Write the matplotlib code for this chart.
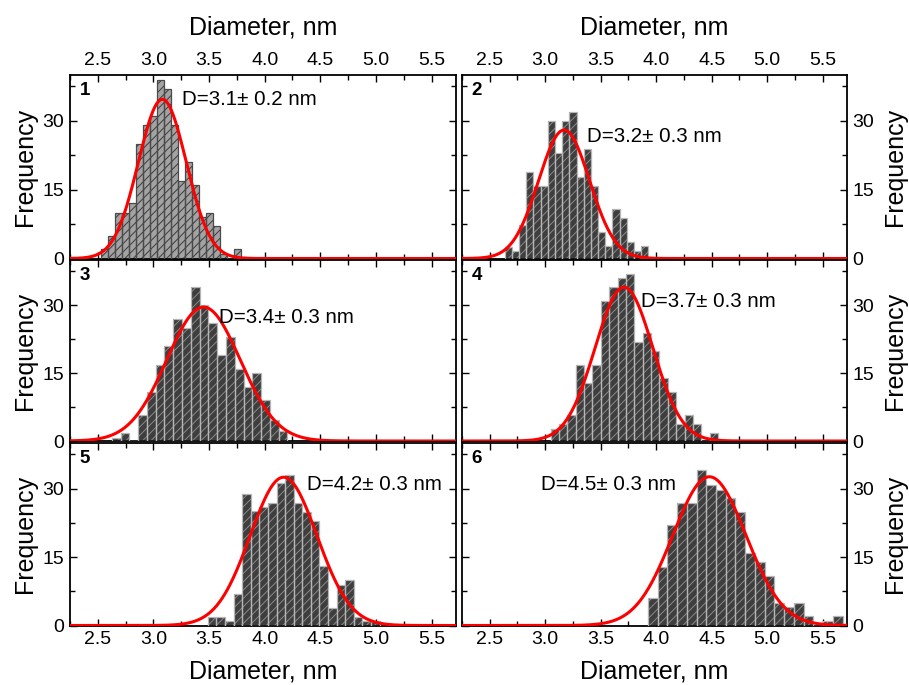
import numpy as np
import matplotlib
matplotlib.use("Agg")
import matplotlib.pyplot as plt
from matplotlib.ticker import MultipleLocator

plt.rcParams['font.family'] = ['Liberation Sans', 'DejaVu Sans']
plt.rcParams['hatch.linewidth'] = 0.7

# ---- data ----
p1_counts = [2, 5, 10, 10, 12, 25, 29, 31, 39, 37, 29, 17, 21, 16, 9, 10, 7, 1, 0, 2]
p1_range = (2.53, 3.79)
p1_fit = (3.08, 0.215, 34.7)          # centre, sigma, amplitude
p1_label = "D=3.1\u00b1 0.2 nm"

p2_counts = [2.6, 1.6, 7.4, 18.8, 15.8, 15.8, 30, 23, 30, 32, 17.8, 23.9, 15.8, 5.7, 2.8, 10.8, 8.8, 3.7, 1.6, 2.7]
p2_range = (2.635, 3.93)
p2_fit = (3.17, 0.23, 28.0)
p2_label = "D=3.2\u00b1 0.3 nm"

p3_counts = [0.6, 1.7, 0, 5.7, 10.8, 16.9, 21, 27, 25, 34, 30, 26, 19, 23, 16, 12, 15, 9, 4.6, 2.2]
p3_range = (2.625, 4.205)
p3_fit = (3.45, 0.33, 29.6)
p3_label = "D=3.4\u00b1 0.3 nm"

p4_counts = [2.6, 3.7, 5.7, 16.8, 12.9, 16.8, 31, 34, 36, 37, 21.9, 23.9, 19.9, 14, 10.8, 3.7, 5.7, 3.7, 0, 1.7]
p4_range = (3.049, 4.557)
p4_fit = (3.71, 0.26, 34.0)
p4_label = "D=3.7\u00b1 0.3 nm"

p5_counts = [1.8, 1.8, 0.9, 6.9, 28.9, 25, 25.9, 26.9, 31.2, 32.9, 26.9, 24.9, 23, 13.1, 3.9, 8.8, 9.9, 1.8, 0.9, 0.9]
p5_range = (3.488, 5.034)
p5_fit = (4.17, 0.30, 32.5)
p5_label = "D=4.2\u00b1 0.3 nm"

p6_counts = [6, 12.9, 22, 26.9, 26.9, 34, 30.9, 29.8, 27.9, 24.9, 15.9, 14, 10.9, 4.9, 4, 4.9, 2, 0, 0.9, 2]
p6_range = (3.925, 5.68)
p6_fit = (4.48, 0.33, 32.6)
p6_label = "D=4.5\u00b1 0.3 nm"

panels = [
    (p1_counts, p1_range, p1_fit, p1_label, "1"),
    (p2_counts, p2_range, p2_fit, p2_label, "2"),
    (p3_counts, p3_range, p3_fit, p3_label, "3"),
    (p4_counts, p4_range, p4_fit, p4_label, "4"),
    (p5_counts, p5_range, p5_fit, p5_label, "5"),
    (p6_counts, p6_range, p6_fit, p6_label, "6"),
]

# label positions (data coords) for annotations
label_pos = [(3.26, 34.6), (3.38, 26.5), (3.59, 27.4), (3.86, 30.9), (4.38, 31.0), (2.96, 31.0)]

W, H = 909, 685
fig = plt.figure(figsize=(W / 100, H / 100), dpi=100)

cols = [(70, 456), (462, 847)]
rows = [(75, 258.5), (260, 441), (443, 625.5)]

XLIM = (2.25, 5.72)
YLIM = (0, 40)

for i, (counts, rng, fit, label, num) in enumerate(panels):
    r, c = divmod(i, 2)
    x0, x1 = cols[c]
    y0, y1 = rows[r]
    ax = fig.add_axes([x0 / W, 1 - y1 / H, (x1 - x0) / W, (y1 - y0) / H])

    counts = np.asarray(counts, dtype=float)
    edges = np.linspace(rng[0], rng[1], len(counts) + 1)
    widths = np.diff(edges)
    if i == 0:
        face, hatchc, edgec = '#a3a3a3', '#3a3a3a', '#4a4a4a'
    else:
        face, hatchc, edgec = '#3e3e3e', '#8a8a8a', '#b5b5b5'
    ax.bar(edges[:-1], counts, width=widths, align='edge', color=face,
           edgecolor=hatchc, hatch='////', linewidth=0, zorder=2)
    ax.bar(edges[:-1], counts, width=widths, align='edge', fill=False,
           edgecolor=edgec, linewidth=0.9, zorder=3)

    xs = np.linspace(XLIM[0], XLIM[1], 600)
    mu, sig, amp = fit
    ax.plot(xs, amp * np.exp(-0.5 * ((xs - mu) / sig) ** 2), color='#ff0000',
            lw=2.2, zorder=4, clip_on=True)

    ax.set_xlim(*XLIM)
    ax.set_ylim(*YLIM)
    ax.xaxis.set_major_locator(MultipleLocator(0.5))
    ax.xaxis.set_minor_locator(MultipleLocator(0.25))
    ax.yaxis.set_major_locator(MultipleLocator(15))
    ax.yaxis.set_minor_locator(MultipleLocator(7.5))
    ax.set_xticks([2.5, 3.0, 3.5, 4.0, 4.5, 5.0, 5.5])
    ax.tick_params(which='both', direction='in', top=True, bottom=True,
                   left=True, right=True, width=1.0, labelsize=14, pad=4)
    ax.tick_params(which='major', length=5)
    ax.tick_params(which='minor', length=3.5)
    for s in ax.spines.values():
        s.set_linewidth(1.3)

    # x labels
    if r == 0:
        ax.tick_params(labeltop=True, labelbottom=False)
        ax.xaxis.set_label_position('top')
        ax.set_xlabel("Diameter, nm", fontsize=18, labelpad=13)
    elif r == 2:
        ax.tick_params(labeltop=False, labelbottom=True)
        ax.set_xlabel("Diameter, nm", fontsize=18, labelpad=8)
    else:
        ax.tick_params(labeltop=False, labelbottom=False)

    # y labels
    if c == 0:
        ax.tick_params(labelleft=True, labelright=False)
        ax.set_ylabel("Frequency", fontsize=18, labelpad=4)
    else:
        ax.tick_params(labelleft=False, labelright=True)
        ax.yaxis.set_label_position('right')
        ax.set_ylabel("Frequency", fontsize=18, labelpad=6, rotation=90)

    lx, ly = label_pos[i]
    ax.text(lx, ly, label, fontsize=14.8, va='center', ha='left', zorder=5)
    ax.text(0.025, 0.96, num, transform=ax.transAxes, fontsize=13.5,
            fontweight='bold', va='top', ha='left', zorder=5)

fig.savefig("out.png", dpi=100)
